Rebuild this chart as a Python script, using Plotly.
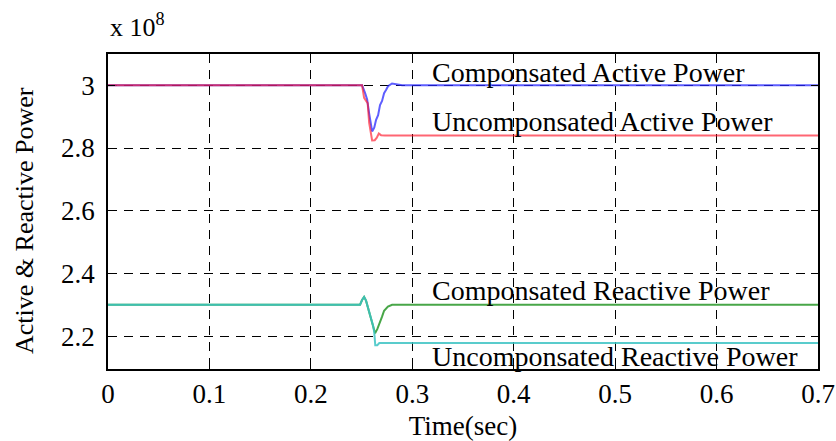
import plotly.graph_objects as go

# ---- data (values in units of 1e8) ----
t_comp_active = [0.0, 0.2505, 0.2535, 0.2555, 0.2575, 0.2604, 0.2625, 0.2643, 0.2663, 0.2682, 0.2702, 0.2722, 0.2741, 0.2761, 0.2800, 0.2850, 0.2900, 0.70]
p_comp_active = [3.0, 3.0, 2.975, 2.955, 2.910, 2.853, 2.865, 2.890, 2.905, 2.937, 2.950, 2.975, 2.985, 2.997, 3.006, 3.004, 3.0, 3.0]

t_uncomp_active = [0.0, 0.2505, 0.2525, 0.2545, 0.2560, 0.2575, 0.2604, 0.2630, 0.2650, 0.2670, 0.2692, 0.2730, 0.70]
p_uncomp_active = [3.0, 3.0, 2.960, 2.948, 2.943, 2.880, 2.824, 2.825, 2.833, 2.846, 2.841, 2.840, 2.840]

t_comp_reactive = [0.0, 0.2485, 0.2505, 0.2525, 0.2544, 0.2565, 0.2584, 0.2613, 0.2633, 0.2655, 0.2682, 0.2702, 0.2722, 0.2760, 0.2801, 0.70]
q_comp_reactive = [2.30, 2.30, 2.315, 2.325, 2.313, 2.290, 2.266, 2.234, 2.209, 2.222, 2.243, 2.262, 2.281, 2.294, 2.30, 2.30]

t_uncomp_reactive = [0.0, 0.2485, 0.2505, 0.2525, 0.2544, 0.2565, 0.2584, 0.2613, 0.2625, 0.2635, 0.2655, 0.2675, 0.70]
q_uncomp_reactive = [2.30, 2.30, 2.315, 2.325, 2.313, 2.290, 2.266, 2.234, 2.212, 2.171, 2.171, 2.178, 2.178]

x_ticks = [0, 0.1, 0.2, 0.3, 0.4, 0.5, 0.6, 0.7]
x_tick_text = ["0", "0.1", "0.2", "0.3", "0.4", "0.5", "0.6", "0.7"]
y_ticks = [2.2, 2.4, 2.6, 2.8, 3.0]
y_tick_text = ["2.2", "2.4", "2.6", "2.8", "3"]

labels = ["Componsated Active Power", "Uncomponsated Active Power",
          "Componsated Reactive Power", "Uncomponsated Reactive Power"]
label_y = [3.041, 2.885, 2.347, 2.136]
label_x = 0.3175

FONT = "Liberation Serif"

fig = go.Figure()
fig.add_trace(go.Scatter(x=t_comp_active, y=p_comp_active, mode="lines",
                         line=dict(color="rgba(40,40,255,0.75)", width=2)))
fig.add_trace(go.Scatter(x=t_uncomp_active, y=p_uncomp_active, mode="lines",
                         line=dict(color="rgba(255,20,40,0.65)", width=2)))
fig.add_trace(go.Scatter(x=t_comp_reactive, y=q_comp_reactive, mode="lines",
                         line=dict(color="rgba(40,150,40,0.85)", width=2)))
fig.add_trace(go.Scatter(x=t_uncomp_reactive, y=q_uncomp_reactive, mode="lines",
                         line=dict(color="rgba(60,195,195,0.85)", width=2)))

for txt, yy in zip(labels, label_y):
    fig.add_annotation(x=label_x, y=yy, xref="x", yref="y", text=txt,
                       showarrow=False, xanchor="left", yanchor="middle",
                       font=dict(family=FONT, size=28, color="black"))

fig.add_annotation(x=0, y=1.0, xref="paper", yref="paper", yshift=10,
                   text="x 10<sup>8</sup>", showarrow=False,
                   xanchor="left", yanchor="bottom",
                   font=dict(family=FONT, size=26, color="black"))

fig.add_annotation(x=0, y=0.47, xref="paper", yref="paper", xshift=-83,
                   text="Active & Reactive Power", textangle=-90, showarrow=False,
                   xanchor="center", yanchor="middle",
                   font=dict(family=FONT, size=26, color="black"))

fig.update_layout(
    width=836, height=441,
    margin=dict(l=108, r=18, t=54, b=72),
    paper_bgcolor="white", plot_bgcolor="white",
    showlegend=False,
    font=dict(family=FONT, size=26, color="black"),
)
fig.update_xaxes(range=[0, 0.7], tickvals=x_ticks, ticktext=x_tick_text,
                 automargin=False,
                 showgrid=True, gridcolor="black", gridwidth=1, griddash="9px,7px",
                 showline=True, linecolor="black", linewidth=1.5, mirror="ticks",
                 ticks="inside", ticklen=7, tickcolor="black", ticklabelstandoff=0,
                 zeroline=False, tickfont=dict(family=FONT, size=27),
                 title=dict(text="Time(sec)", font=dict(family=FONT, size=27), standoff=14))
fig.update_yaxes(range=[2.095, 3.1], tickvals=y_ticks, ticktext=y_tick_text,
                 automargin=False,
                 showgrid=True, gridcolor="black", gridwidth=1, griddash="9px,7px",
                 showline=True, linecolor="black", linewidth=1.5, mirror="ticks",
                 ticks="inside", ticklen=7, tickcolor="black", ticklabelstandoff=6,
                 zeroline=False, tickfont=dict(family=FONT, size=27))

fig.write_html("out.html")
